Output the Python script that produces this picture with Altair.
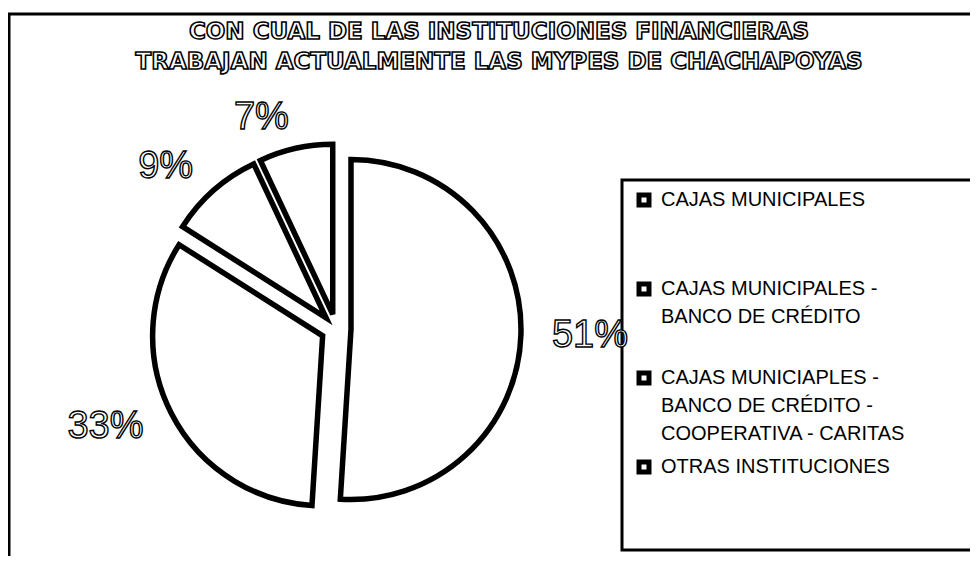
import altair as alt
import pandas as pd

# ---- data ----
categorias = [
    "CAJAS MUNICIPALES",
    "CAJAS MUNICIPALES -\nBANCO DE CRÉDITO",
    "CAJAS MUNICIAPLES -\nBANCO DE CRÉDITO -\nCOOPERATIVA - CARITAS",
    "OTRAS INSTITUCIONES",
]
porcentajes = [51, 33, 9, 7]
titulo = [
    "CON CUAL DE LAS INSTITUCIONES FINANCIERAS",
    "TRABAJAN ACTUALMENTE LAS MYPES DE CHACHAPOYAS",
]

# ---- layout / style constants ----
W, H = 962, 548
CX, CY = 328, 321          # pie centre (px in plot area)
RADIO = 170                # outer radius
EXPLOSION = 15             # distance each slice is pulled out
RADIO_ETIQ = 216           # label anchor radius
FONT = "Liberation Sans"

df = pd.DataFrame({"categoria": categorias, "porcentaje": porcentajes,
                   "orden": list(range(len(categorias)))})

base = (
    alt.Chart(df)
    .transform_window(cum="sum(porcentaje)", sort=[alt.SortField("orden")], frame=[None, 0])
    .transform_joinaggregate(total="sum(porcentaje)")
    .transform_calculate(
        a0="2*PI*(datum.cum - datum.porcentaje)/datum.total",
        a1="2*PI*datum.cum/datum.total",
    )
    .transform_calculate(mid="(datum.a0 + datum.a1)/2")
    .transform_calculate(
        px=f"{CX} + {EXPLOSION}*sin(datum.mid)",
        py=f"{CY} - {EXPLOSION}*cos(datum.mid)",
        lx=f"{CX} + {RADIO_ETIQ}*sin(datum.mid)",
        ly=f"{CY} - {RADIO_ETIQ}*cos(datum.mid)",
        etiqueta="datum.porcentaje + '%'",
    )
)

arcos = base.mark_arc(
    outerRadius=RADIO, stroke="black", strokeWidth=5.5, strokeJoin="miter"
).encode(
    theta=alt.Theta("a0:Q", scale=None, stack=None),
    theta2=alt.Theta2("a1:Q"),
    x=alt.X("px:Q", scale=None),
    y=alt.Y("py:Q", scale=None),
    fill=alt.Fill(
        "categoria:N",
        scale=alt.Scale(domain=categorias, range=["white"] * len(categorias)),
        legend=alt.Legend(
            title=None, orient="none", legendX=626, legendY=182,
            symbolType="square", symbolSize=100, symbolStrokeColor="black",
            symbolStrokeWidth=5, symbolFillColor="white",
            labelFont=FONT, labelFontSize=20, labelColor="black", labelLimit=0,
            labelExpr="slice(split(datum.label + '\\n\\n\\n', '\\n'), 0, 3)",
            labelOffset=7, rowPadding=8, padding=0,
        ),
    ),
)

estilo_etiq = dict(baseline="middle", fontSize=38, font=FONT, fill="white",
                   stroke="black", strokeWidth=1.4)
etiq_der = base.transform_filter("sin(datum.mid) >= 0").mark_text(align="left", **estilo_etiq).encode(
    x=alt.X("lx:Q", scale=None), y=alt.Y("ly:Q", scale=None), text="etiqueta:N")
etiq_izq = base.transform_filter("sin(datum.mid) < 0").mark_text(align="right", **estilo_etiq).encode(
    x=alt.X("lx:Q", scale=None), y=alt.Y("ly:Q", scale=None), text="etiqueta:N")

tit = (
    alt.Chart(pd.DataFrame({"linea": titulo}))
    .transform_window(fila="row_number()")
    .transform_calculate(ty="24 + 30*(datum.fila - 1)")
    .mark_text(align="center", baseline="middle", fontSize=23, fontWeight="bold",
               font="DejaVu Sans", fill="white", stroke="black", strokeWidth=1.6)
    .encode(x=alt.value(491), y=alt.Y("ty:Q", scale=None), text="linea:N")
)

marco_df = pd.DataFrame({"k": [0]})
marco = alt.Chart(marco_df).mark_rect(filled=False, stroke="black", strokeWidth=3).encode(
    x=alt.value(1), x2=alt.value(1200), y=alt.value(6), y2=alt.value(900))
caja_leyenda = alt.Chart(marco_df).mark_rect(filled=False, stroke="black", strokeWidth=3).encode(
    x=alt.value(614), x2=alt.value(1200), y=alt.value(172), y2=alt.value(542))

chart = (
    alt.layer(marco, caja_leyenda, arcos, etiq_der, etiq_izq, tit)
    .properties(width=W, height=H, padding=0, autosize=alt.AutoSizeParams(type="none"),
                background="white")
    .configure(style={"guide-label": {"lineHeight": 28}})
    .configure_view(stroke=None)
)

chart.save("out.html", embed_options={"renderer": "svg", "actions": False})
